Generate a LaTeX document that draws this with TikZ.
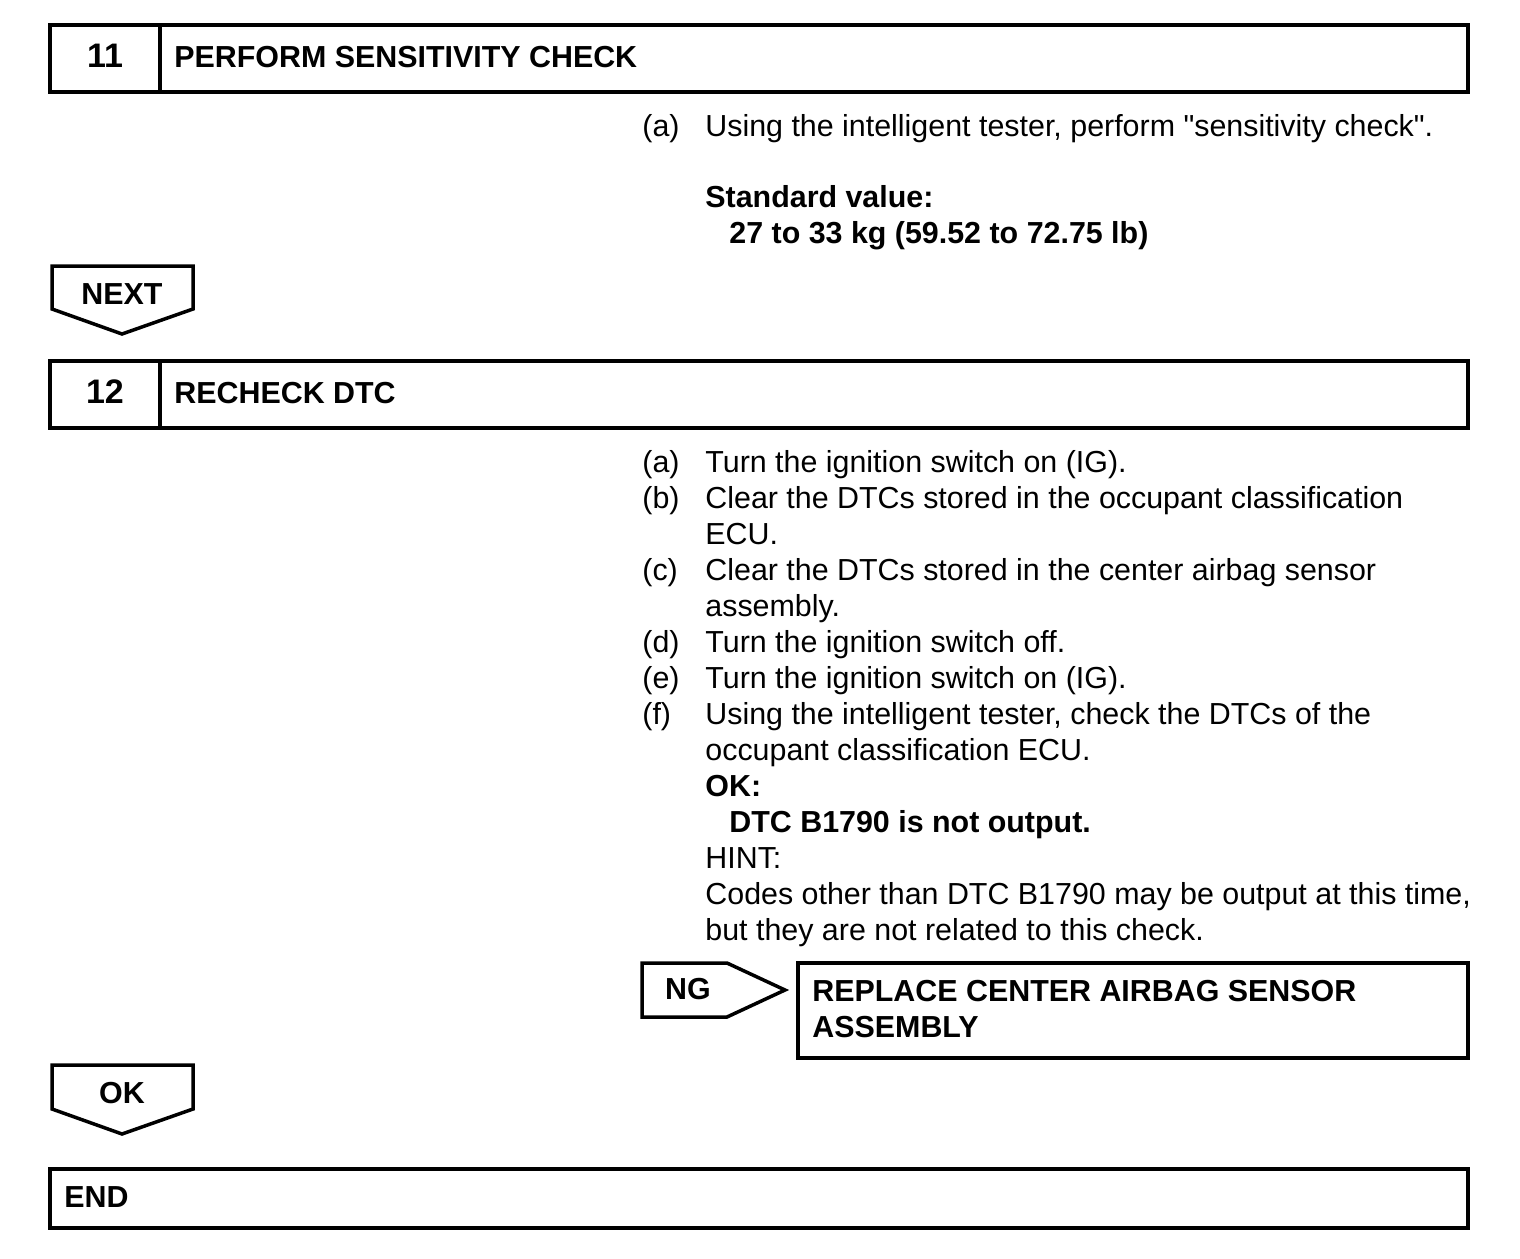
\documentclass[tikz,border=0pt]{standalone}
\usepackage{fontspec}
\setmainfont{Liberation Sans}[Ligatures=TeXOff]

\begin{document}
\begin{tikzpicture}[x=0.5pt, y=-0.5pt,
	frame/.style={line width=1.75pt},
	txt/.style={anchor=base west, inner sep=0pt, font=\fontsize{15.2}{18}\selectfont},
	btxt/.style={txt, font=\fontsize{15.2}{18}\selectfont\bfseries},
	num/.style={anchor=base, inner sep=0pt, font=\fontsize{17}{20}\selectfont\bfseries}]
	\useasboundingbox (0,0) rectangle (1520,1258);
	% step 11
	\draw[frame] (50,25) rectangle (1468,92);
	\draw[frame] (160,25) -- (160,92);
	\node[num] (n11) at (105,67) {11};
	\node[btxt] (t11) at (174,67) {PERFORM SENSITIVITY CHECK};
	\node[txt] (a11) at (642,136) {(a)};
	\node[txt] (a11text) at (705,136) {Using the intelligent tester, perform "sensitivity check".};
	\node[btxt] (std) at (705,207) {Standard value:};
	\node[btxt] (stdval) at (729,243) {27 to 33 kg (59.52 to 72.75 lb)};
	% next arrow
	\draw[frame, line join=miter] (52,266) -- (193,266) -- (193,309) -- (122,334) -- (52,309) -- cycle;
	\node[btxt, anchor=base] (next) at (122,304) {NEXT};
	% step 12
	\draw[frame] (50,361) rectangle (1468,428);
	\draw[frame] (160,361) -- (160,428);
	\node[num] (n12) at (105,403) {12};
	\node[btxt] (t12) at (174,403) {RECHECK DTC};
	\foreach \lbl/\yy in {a/472, b/508, c/580, d/652, e/688, f/724} {
		\node[txt] (l\lbl) at (642,\yy) {(\lbl)};
	}
	\node[txt] (ia) at (705,472) {Turn the ignition switch on (IG).};
	\node[txt] (ib) at (705,508) {Clear the DTCs stored in the occupant classification};
	\node[txt] (ib2) at (705,544) {ECU.};
	\node[txt] (ic) at (705,580) {Clear the DTCs stored in the center airbag sensor};
	\node[txt] (ic2) at (705,616) {assembly.};
	\node[txt] (id) at (705,652) {Turn the ignition switch off.};
	\node[txt] (ie) at (705,688) {Turn the ignition switch on (IG).};
	\node[txt] (if) at (705,724) {Using the intelligent tester, check the DTCs of the};
	\node[txt] (if2) at (705,760) {occupant classification ECU.};
	\node[btxt] (ok) at (705,796) {OK:};
	\node[btxt] (okval) at (729,832) {DTC B1790 is not output.};
	\node[txt] (hint) at (705,868) {HINT:};
	\node[txt] (hint1) at (705,904) {Codes other than DTC B1790 may be output at this time,};
	\node[txt] (hint2) at (705,940) {but they are not related to this check.};
	% ng branch
	\draw[frame, line join=miter] (642,963) -- (727,963) -- (785,990) -- (727,1017) -- (642,1017) -- cycle;
	\node[btxt, anchor=base] (ng) at (688,999) {NG};
	\draw[frame] (798,963) rectangle (1468,1058);
	\node[btxt] (repl) at (812,1001) {REPLACE CENTER AIRBAG SENSOR};
	\node[btxt] (repl2) at (812,1037) {ASSEMBLY};
	% ok arrow
	\draw[frame, line join=miter] (52,1065) -- (193,1065) -- (193,1109) -- (122,1134) -- (52,1109) -- cycle;
	\node[btxt, anchor=base] (okarrow) at (122,1103) {OK};
	% end
	\draw[frame] (50,1169) rectangle (1468,1228);
	\node[btxt] (fin) at (64,1207) {END};
\end{tikzpicture}
\end{document}
